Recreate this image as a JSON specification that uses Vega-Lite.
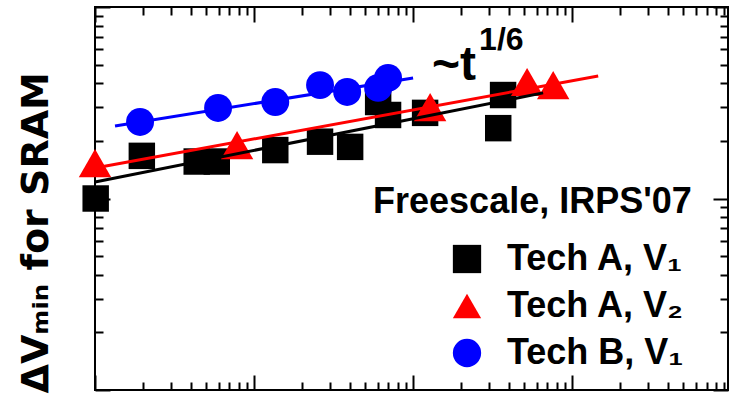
{
  "$schema": "https://vega.github.io/schema/vega-lite/v6.json",
  "autosize": "none",
  "width": 633,
  "height": 383,
  "padding": {"left": 95, "top": 7, "right": 1, "bottom": 6},
  "background": "white",
  "config": {
    "view": {"stroke": "black", "strokeWidth": 2},
    "font": "Liberation Sans",
    "axis": {
      "domain": false,
      "grid": false,
      "labels": false,
      "ticks": true,
      "tickColor": "black",
      "tickWidth": 2,
      "tickSize": {"condition": {"test": "abs(log(datum.value)/LN10 - round(log(datum.value)/LN10)) < 0.000001", "value": -15}, "value": -8}
    },
    "legend": {
      "labelFont": "Liberation Sans",
      "labelFontSize": 36,
      "labelFontWeight": "bold",
      "labelColor": "black",
      "labelLimit": 400,
      "symbolSize": 800,
      "symbolStrokeWidth": 0,
      "labelOffset": 22,
      "rowPadding": 11,
      "padding": 0
    }
  },
  "datasets": {
    "points": [
      {"series": "Tech A, V₁", "t": 1.01, "dv": 1.00},
      {"series": "Tech A, V₁", "t": 1.97, "dv": 1.67},
      {"series": "Tech A, V₁", "t": 4.36, "dv": 1.56},
      {"series": "Tech A, V₁", "t": 5.83, "dv": 1.56},
      {"series": "Tech A, V₁", "t": 13.6, "dv": 1.79},
      {"series": "Tech A, V₁", "t": 26.0, "dv": 1.98},
      {"series": "Tech A, V₁", "t": 40.2, "dv": 1.86},
      {"series": "Tech A, V₁", "t": 60.3, "dv": 3.19},
      {"series": "Tech A, V₁", "t": 69.6, "dv": 2.73},
      {"series": "Tech A, V₁", "t": 119, "dv": 2.80},
      {"series": "Tech A, V₁", "t": 343, "dv": 2.33},
      {"series": "Tech A, V₁", "t": 368, "dv": 3.47},
      {"series": "Tech A, V₂", "t": 1.0, "dv": 1.53},
      {"series": "Tech A, V₂", "t": 7.82, "dv": 1.90},
      {"series": "Tech A, V₂", "t": 128, "dv": 3.00},
      {"series": "Tech A, V₂", "t": 521, "dv": 4.06},
      {"series": "Tech A, V₂", "t": 760, "dv": 3.91},
      {"series": "Tech B, V₁", "t": 1.92, "dv": 2.51},
      {"series": "Tech B, V₁", "t": 5.94, "dv": 2.97},
      {"series": "Tech B, V₁", "t": 13.6, "dv": 3.19},
      {"series": "Tech B, V₁", "t": 26.0, "dv": 3.91},
      {"series": "Tech B, V₁", "t": 38.5, "dv": 3.60},
      {"series": "Tech B, V₁", "t": 60.3, "dv": 3.78},
      {"series": "Tech B, V₁", "t": 69.6, "dv": 4.26}
    ],
    "fits": [
      {"series": "Tech A, V₁", "t": 1.0, "dv": 1.22},
      {"series": "Tech A, V₁", "t": 657, "dv": 3.56},
      {"series": "Tech A, V₂", "t": 1.0, "dv": 1.443},
      {"series": "Tech A, V₂", "t": 1458, "dv": 4.36},
      {"series": "Tech B, V₁", "t": 1.336, "dv": 2.39},
      {"series": "Tech B, V₁", "t": 100, "dv": 4.26}
    ]
  },
  "layer": [
    {
      "data": {"name": "points"},
      "transform": [{"filter": "datum.series == 'Tech A, V₁'"}],
      "mark": {"type": "point", "filled": true, "opacity": 1, "size": 700, "strokeWidth": 0},
      "encoding": {
        "x": {"field": "t", "type": "quantitative",
              "scale": {"type": "log", "domain": [1, 9550], "nice": false},
              "axis": {"orient": "bottom", "title": null,
                       "values": [1,2,3,4,5,6,7,8,9,10,20,30,40,50,60,70,80,90,100,200,300,400,500,600,700,800,900,1000,2000,3000,4000,5000,6000,7000,8000,9000]}},
        "y": {"field": "dv", "type": "quantitative",
              "scale": {"type": "log", "domain": [0.1, 10], "nice": false},
              "axis": {"orient": "left",
                       "values": [0.1,0.2,0.3,0.4,0.5,0.6,0.7,0.8,0.9,1,2,3,4,5,6,7,8,9,10],
                       "title": "ΔVₘᵢₙ for SRAM",
                       "titleFont": "DejaVu Sans",
                       "titleFontSize": 38,
                       "titleFontWeight": "bold",
                       "titleColor": "black",
                       "titleAngle": 270,
                       "titleAlign": "left",
                       "titleBaseline": "alphabetic",
                       "titleLimit": 500,
                       "titleX": -48,
                       "titleY": 386}},
        "color": {"field": "series", "type": "nominal",
                  "scale": {"domain": ["Tech A, V₁", "Tech A, V₂", "Tech B, V₁"], "range": ["#000000", "#ff0000", "#0000ff"]},
                  "legend": {"orient": "none", "legendX": 354, "legendY": 234, "title": null}},
        "shape": {"field": "series", "type": "nominal",
                  "scale": {"domain": ["Tech A, V₁", "Tech A, V₂", "Tech B, V₁"], "range": ["square", "triangle-up", "circle"]},
                  "legend": {"orient": "none", "legendX": 354, "legendY": 234, "title": null}}
      }
    },
    {
      "data": {"name": "points"},
      "transform": [{"filter": "datum.series == 'Tech A, V₂'"}],
      "mark": {"type": "point", "filled": true, "opacity": 1, "size": 1050, "strokeWidth": 0},
      "encoding": {
        "x": {"field": "t", "type": "quantitative", "axis": null},
        "y": {"field": "dv", "type": "quantitative", "axis": null},
        "color": {"field": "series", "type": "nominal"},
        "shape": {"field": "series", "type": "nominal"}
      }
    },
    {
      "data": {"name": "points"},
      "transform": [{"filter": "datum.series == 'Tech B, V₁'"}],
      "mark": {"type": "point", "filled": true, "opacity": 1, "size": 780, "strokeWidth": 0},
      "encoding": {
        "x": {"field": "t", "type": "quantitative", "axis": null},
        "y": {"field": "dv", "type": "quantitative", "axis": null},
        "color": {"field": "series", "type": "nominal"},
        "shape": {"field": "series", "type": "nominal"}
      }
    },
    {
      "data": {"name": "fits"},
      "mark": {"type": "line", "strokeWidth": 3},
      "encoding": {
        "x": {"field": "t", "type": "quantitative",
              "axis": {"orient": "top", "title": null,
                       "values": [1,2,3,4,5,6,7,8,9,10,20,30,40,50,60,70,80,90,100,200,300,400,500,600,700,800,900,1000,2000,3000,4000,5000,6000,7000,8000,9000]}},
        "y": {"field": "dv", "type": "quantitative",
              "axis": {"orient": "right", "title": null,
                       "values": [0.1,0.2,0.3,0.4,0.5,0.6,0.7,0.8,0.9,1,2,3,4,5,6,7,8,9,10]}},
        "stroke": {"field": "series", "type": "nominal",
                   "scale": {"domain": ["Tech A, V₁", "Tech A, V₂", "Tech B, V₁"], "range": ["#000000", "#ff0000", "#0000ff"]},
                   "legend": null}
      }
    },
    {
      "data": {"values": [{}]},
      "mark": {"type": "text", "text": "~t", "font": "Liberation Sans", "fontSize": 48, "fontWeight": "bold", "align": "left", "baseline": "alphabetic", "color": "black"},
      "encoding": {
        "x": {"datum": 131.6, "type": "quantitative", "axis": null},
        "y": {"datum": 4.16, "type": "quantitative", "axis": null}
      }
    },
    {
      "data": {"values": [{}]},
      "mark": {"type": "text", "text": "1/6", "font": "Liberation Sans", "fontSize": 32, "fontWeight": "bold", "align": "left", "baseline": "alphabetic", "color": "black"},
      "encoding": {
        "x": {"datum": 260, "type": "quantitative", "axis": null},
        "y": {"datum": 5.96, "type": "quantitative", "axis": null}
      }
    },
    {
      "data": {"values": [{}]},
      "mark": {"type": "text", "text": "Freescale, IRPS'07", "font": "Liberation Sans", "fontSize": 36, "fontWeight": "bold", "align": "left", "baseline": "alphabetic", "color": "black"},
      "encoding": {
        "x": {"datum": 56.0, "type": "quantitative", "axis": null},
        "y": {"datum": 0.84, "type": "quantitative", "axis": null}
      }
    }
  ],
  "resolve": {"axis": {"x": "independent", "y": "independent"}}
}
